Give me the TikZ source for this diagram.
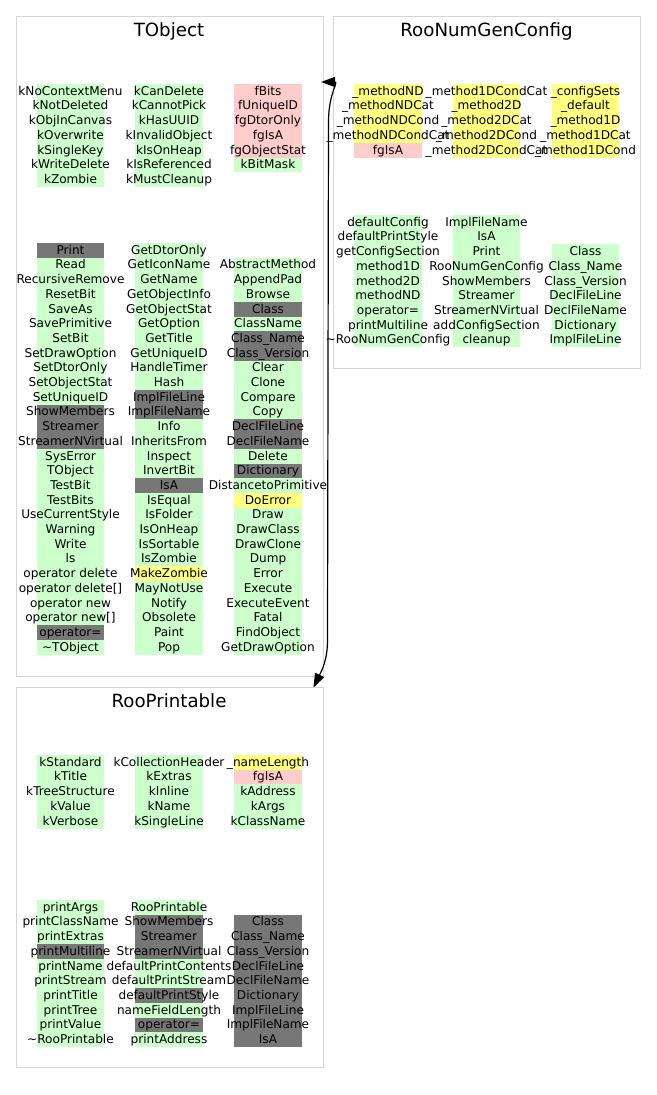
\documentclass[tikz,border=0pt]{standalone}
\usepackage{fontspec}
\setmainfont{DejaVu Sans}
\usetikzlibrary{arrows.meta}

\definecolor{cg}{RGB}{204,255,204}
\definecolor{cp}{RGB}{255,204,204}
\definecolor{cy}{RGB}{255,255,128}
\definecolor{ck}{RGB}{119,119,119}
\definecolor{frame}{RGB}{214,214,214}

% one column of a member table: #1 = x centre, #2 = top of first row,
% #3 = list of colour/text pairs, #4 = node name prefix
\newcommand\membercol[4]{%
  \foreach \c/\t [count=\i] in {#3} {%
    \fill[\c] ({#1-33.75},{#2+(\i-1)*14.7}) rectangle ++(67.5,14.7);
    \node[cell] (#4-\i) at ({#1},{#2+(\i-0.5)*14.7+3.9}) {\t};
  }%
}

\begin{document}
\begin{tikzpicture}[x=1pt,y=-1pt,
  cell/.style={anchor=base,inner sep=0pt,font=\fontsize{12.1}{14}\selectfont},
  title/.style={anchor=base,inner sep=0pt,font=\fontsize{18.2}{20}\selectfont},
  cluster/.style={draw=frame,line width=1.3pt,anchor=north west,inner sep=0pt},
  edge/.style={line width=1.2pt,black,
    {Triangle[length=14pt,width=10pt]}-{Triangle[length=14pt,width=10pt]}}]
\useasboundingbox[fill=white] (0,0) rectangle (656,1095);

% cluster frames
\node[cluster,minimum width=307pt,minimum height=660.5pt] (tobject) at (15.5,15.5) {};
\node[cluster,minimum width=307pt,minimum height=352.5pt] (rngc) at (333,15.5) {};
\node[cluster,minimum width=307pt,minimum height=380pt] (rooprintable) at (15.5,687) {};

\node[title] (tobject-title) at (169,36) {TObject};
\node[title] (rngc-title) at (486.5,36) {RooNumGenConfig};
\node[title] (rooprintable-title) at (169,707) {RooPrintable};

% ---------------- TObject ----------------
\membercol{70.5}{84}{cg/kNoContextMenu,cg/kNotDeleted,cg/kObjInCanvas,cg/kOverwrite,cg/kSingleKey,cg/kWriteDelete,cg/kZombie}{toa}
\membercol{169}{84}{cg/kCanDelete,cg/kCannotPick,cg/kHasUUID,cg/kInvalidObject,cg/kIsOnHeap,cg/kIsReferenced,cg/kMustCleanup}{tob}
\membercol{268}{84}{cp/fBits,cp/fUniqueID,cp/fgDtorOnly,cp/fgIsA,cp/fgObjectStat,cg/kBitMask}{toc}

\membercol{70.5}{243}{ck/Print,cg/Read,cg/RecursiveRemove,cg/ResetBit,cg/SaveAs,cg/SavePrimitive,cg/SetBit,cg/SetDrawOption,cg/SetDtorOnly,cg/SetObjectStat,cg/SetUniqueID,ck/ShowMembers,ck/Streamer,ck/StreamerNVirtual,cg/SysError,cg/TObject,cg/TestBit,cg/TestBits,cg/UseCurrentStyle,cg/Warning,cg/Write,cg/ls,cg/{operator delete},cg/{operator delete[]},cg/{operator new},cg/{operator new[]},ck/{operator=},cg/{\textasciitilde TObject}}{tod}
\membercol{169}{243}{cg/GetDtorOnly,cg/GetIconName,cg/GetName,cg/GetObjectInfo,cg/GetObjectStat,cg/GetOption,cg/GetTitle,cg/GetUniqueID,cg/HandleTimer,cg/Hash,ck/ImplFileLine,ck/ImplFileName,cg/Info,cg/InheritsFrom,cg/Inspect,cg/InvertBit,ck/IsA,cg/IsEqual,cg/IsFolder,cg/IsOnHeap,cg/IsSortable,cg/IsZombie,cy/MakeZombie,cg/MayNotUse,cg/Notify,cg/Obsolete,cg/Paint,cg/Pop}{toe}
\membercol{268}{257.7}{cg/AbstractMethod,cg/AppendPad,cg/Browse,ck/Class,cg/ClassName,ck/{Class\_Name},ck/{Class\_Version},cg/Clear,cg/Clone,cg/Compare,cg/Copy,ck/DeclFileLine,ck/DeclFileName,cg/Delete,ck/Dictionary,cg/DistancetoPrimitive,cy/DoError,cg/Draw,cg/DrawClass,cg/DrawClone,cg/Dump,cg/Error,cg/Execute,cg/ExecuteEvent,cg/Fatal,cg/FindObject,cg/GetDrawOption}{tof}

% ---------------- RooNumGenConfig ----------------
\membercol{388}{84}{cy/{\_methodND},cy/{\_methodNDCat},cy/{\_methodNDCond},cy/{\_methodNDCondCat},cp/fgIsA}{nga}
\membercol{486.5}{84}{cy/{\_method1DCondCat},cy/{\_method2D},cy/{\_method2DCat},cy/{\_method2DCond},cy/{\_method2DCondCat}}{ngb}
\membercol{585.5}{84}{cy/{\_configSets},cy/{\_default},cy/{\_method1D},cy/{\_method1DCat},cy/{\_method1DCond}}{ngc}

\membercol{388}{215}{cg/defaultConfig,cg/defaultPrintStyle,cg/getConfigSection,cg/method1D,cg/method2D,cg/methodND,cg/{operator=},cg/printMultiline,cg/{\textasciitilde RooNumGenConfig}}{ngd}
\membercol{486.5}{215}{cg/ImplFileName,cg/IsA,cg/Print,cg/RooNumGenConfig,cg/ShowMembers,cg/Streamer,cg/StreamerNVirtual,cg/addConfigSection,cg/cleanup}{nge}
\membercol{585.5}{244.4}{cg/Class,cg/{Class\_Name},cg/{Class\_Version},cg/DeclFileLine,cg/DeclFileName,cg/Dictionary,cg/ImplFileLine}{ngf}

% ---------------- RooPrintable ----------------
\membercol{70.5}{755}{cg/kStandard,cg/kTitle,cg/kTreeStructure,cg/kValue,cg/kVerbose}{rpa}
\membercol{169}{755}{cg/kCollectionHeader,cg/kExtras,cg/kInline,cg/kName,cg/kSingleLine}{rpb}
\membercol{268}{755}{cy/{\_nameLength},cp/fgIsA,cg/kAddress,cg/kArgs,cg/kClassName}{rpc}

\membercol{70.5}{900}{cg/printArgs,cg/printClassName,cg/printExtras,ck/printMultiline,cg/printName,cg/printStream,cg/printTitle,cg/printTree,cg/printValue,cg/{\textasciitilde RooPrintable}}{rpd}
\membercol{169}{900}{cg/RooPrintable,ck/ShowMembers,ck/Streamer,ck/StreamerNVirtual,cg/defaultPrintContents,cg/defaultPrintStream,ck/defaultPrintStyle,cg/nameFieldLength,ck/{operator=},cg/printAddress}{rpe}
\membercol{268}{914.7}{ck/Class,ck/{Class\_Name},ck/{Class\_Version},ck/DeclFileLine,ck/DeclFileName,ck/Dictionary,ck/ImplFileLine,ck/ImplFileName,ck/IsA}{rpf}

% inheritance connector between the clusters
\coordinate (in-tobject) at (321,82);
\coordinate (in-rooprintable) at (313.5,687.5);
\draw[edge] (in-tobject) .. controls (339,82) and (329,92) .. (328.5,120)
  -- (327.5,640) .. controls (327.5,660) and (322,670) .. (in-rooprintable);
\end{tikzpicture}
\end{document}
